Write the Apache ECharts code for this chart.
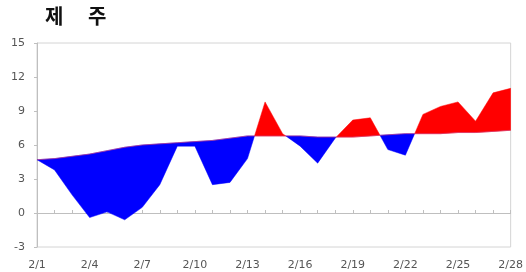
<!DOCTYPE html>
<html>
<head>
<meta charset="utf-8">
<script src="https://cdn.jsdelivr.net/npm/echarts@6/dist/echarts.min.js"></script>
<style>
html, body { margin: 0; padding: 0; background: #fff; }
#chart { width: 526px; height: 272px; }
</style>
</head>
<body>
<div id="chart"></div>
<script>
// 날짜 (2월)
const days = ['2/1','2/2','2/3','2/4','2/5','2/6','2/7','2/8','2/9','2/10','2/11','2/12','2/13','2/14',
  '2/15','2/16','2/17','2/18','2/19','2/20','2/21','2/22','2/23','2/24','2/25','2/26','2/27','2/28'];
// 평년값
const normal = [4.7, 4.8, 5.0, 5.2, 5.5, 5.8, 6.0, 6.1, 6.2, 6.3, 6.4, 6.6, 6.8, 6.8,
  6.8, 6.8, 6.7, 6.7, 6.7, 6.8, 6.9, 7.0, 7.0, 7.0, 7.1, 7.1, 7.2, 7.3];
// 올해 기온
const actual = [4.7, 3.8, 1.6, -0.4, 0.1, -0.6, 0.5, 2.5, 5.9, 5.9, 2.5, 2.7, 4.8, 9.8,
  7.0, 5.9, 4.4, 6.6, 8.2, 8.4, 5.6, 5.1, 8.7, 9.4, 9.8, 8.1, 10.6, 11.0];

const RED = '#ff0000';
const BLUE = '#0000ff';

// 평년보다 높으면 빨강, 낮으면 파랑 (같은 부호 구간을 하나의 다각형으로)
function renderItem(params, api) {
  const pieces = [];
  let cur = null;
  let prevD = 0;
  let prevA = null;
  for (let i = 0; i < days.length; i++) {
    const a = api.coord([i, actual[i]]);
    const n = api.coord([i, normal[i]]);
    const d = actual[i] - normal[i];
    if (!cur) {
      cur = { sign: d >= 0 ? 1 : -1, top: [a], bot: [n] };
    } else if (prevD * d < 0) {
      // 교차점에서 나눔
      const t = prevD / (prevD - d);
      const c = [prevA[0] + t * (a[0] - prevA[0]), prevA[1] + t * (a[1] - prevA[1])];
      cur.top.push(c);
      pieces.push(cur);
      cur = { sign: d >= 0 ? 1 : -1, top: [c, a], bot: [n] };
    } else {
      if (prevD === 0 && d !== 0) cur.sign = d > 0 ? 1 : -1;
      cur.top.push(a);
      cur.bot.push(n);
    }
    prevD = d;
    prevA = a;
  }
  pieces.push(cur);
  return {
    type: 'group',
    children: pieces.map(p => {
      const c = p.sign > 0 ? RED : BLUE;
      return {
        type: 'polygon',
        shape: { points: p.top.concat(p.bot.slice().reverse()) },
        style: { fill: c, stroke: c, lineWidth: 0.5 }
      };
    })
  };
}

const titleStyle = {
  fontFamily: 'Noto Sans CJK KR', fontSize: 20, fontWeight: 'bold', fill: '#111',
  align: 'left', verticalAlign: 'top'
};

const chart = echarts.init(document.getElementById('chart'));
chart.setOption({
  animation: false,
  graphic: [
    { type: 'text', x: 45, y: 6, style: Object.assign({ text: '제' }, titleStyle) },
    { type: 'text', x: 88, y: 6, style: Object.assign({ text: '주' }, titleStyle) }
  ],
  grid: {
    left: 37, right: 14, top: 43, bottom: 25,
    show: true, borderColor: '#d4d4d4', borderWidth: 1
  },
  xAxis: {
    type: 'category',
    data: days,
    boundaryGap: false,
    axisLine: { lineStyle: { color: '#bfbfbf' } },
    axisTick: { show: true, interval: 0, length: 3, inside: true, lineStyle: { color: '#bfbfbf' } },
    axisLabel: { interval: 2, margin: 13, color: '#555', fontSize: 11, fontFamily: 'DejaVu Sans' },
    splitLine: { show: false }
  },
  yAxis: {
    type: 'value',
    min: -3, max: 15, interval: 3,
    axisLine: { show: true, lineStyle: { color: '#bfbfbf' } },
    axisTick: { show: true, length: 3, lineStyle: { color: '#bfbfbf' } },
    axisLabel: { margin: 12, color: '#555', fontSize: 11, fontFamily: 'DejaVu Sans' },
    splitLine: { show: false }
  },
  series: [
    {
      type: 'custom',
      renderItem: renderItem,
      data: [[0]],
      clip: true,
      silent: true
    },
    {
      type: 'line',
      data: normal,
      symbol: 'none',
      lineStyle: { width: 0.8, color: '#d03a78', opacity: 0.8 },
      z: 3,
      silent: true
    }
  ]
});
</script>
</body>
</html>
